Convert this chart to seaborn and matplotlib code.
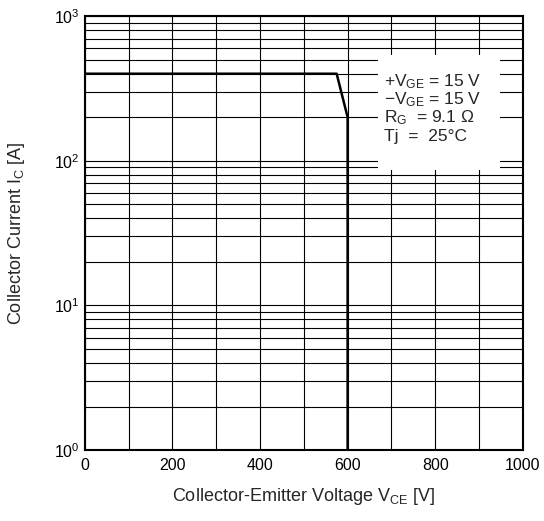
import matplotlib
matplotlib.use("Agg")
import matplotlib.pyplot as plt
from matplotlib.patches import Rectangle
import numpy as np
import pandas as pd
import seaborn as sns

# Data: RBSOA boundary
vce = [0, 575, 600, 600]
ic = [400, 400, 200, 1]

x_ticks = [0, 200, 400, 600, 800, 1000]
legend_lines = [
    r"$+V_{\mathrm{GE}}$ = 15 V",
    r"$-V_{\mathrm{GE}}$ = 15 V",
    r"$R_{\mathrm{G}}$  = 9.1 $\Omega$",
    r"Tj  =  25°C",
]

sns.set_style("white")
plt.rcParams['font.family'] = ['Liberation Sans', 'DejaVu Sans']
plt.rcParams['mathtext.fontset'] = 'custom'
plt.rcParams['mathtext.rm'] = 'Liberation Sans'
plt.rcParams['mathtext.it'] = 'Liberation Sans'

fig = plt.figure(figsize=(5.44, 5.21), dpi=100)
ax = fig.add_axes([0.156, 0.136, 0.805, 0.833])

df = pd.DataFrame({"Vce": vce, "Ic": ic})
sns.lineplot(data=df, x="Vce", y="Ic", ax=ax, color="black", lw=1.8,
             sort=False, estimator=None, zorder=4)

ax.set_yscale("log")
ax.set_xlim(0, 1000)
ax.set_ylim(1, 1000)

# grid: vertical every 100 V, horizontal at all log decades + minors
ax.set_xticks(x_ticks)
ax.set_xticks(np.arange(0, 1001, 100), minor=True)
ax.grid(True, which="both", color="black", lw=0.8, zorder=1)
ax.tick_params(which="both", length=0, labelsize=11.5, colors="black")
ax.tick_params(axis="x", pad=6)

for s in ax.spines.values():
    s.set_color("black")
    s.set_linewidth(1.5)

# white box behind the condition text
ax.add_patch(Rectangle((0.669, 0.645), 0.278, 0.265, transform=ax.transAxes,
                       facecolor="white", edgecolor="none", zorder=2))
for i, line in enumerate(legend_lines):
    ax.text(0.683, 0.848 - i * 0.0415, line, transform=ax.transAxes,
            fontsize=12.5, va="center", ha="left", zorder=5)

ax.set_xlabel("Collector-Emitter Voltage V$_{\\mathrm{CE}}$ [V]", fontsize=13, labelpad=9)
ax.set_ylabel("Collector Current I$_{\\mathrm{C}}$ [A]", fontsize=13, labelpad=20)

fig.savefig("out.png", dpi=100)
